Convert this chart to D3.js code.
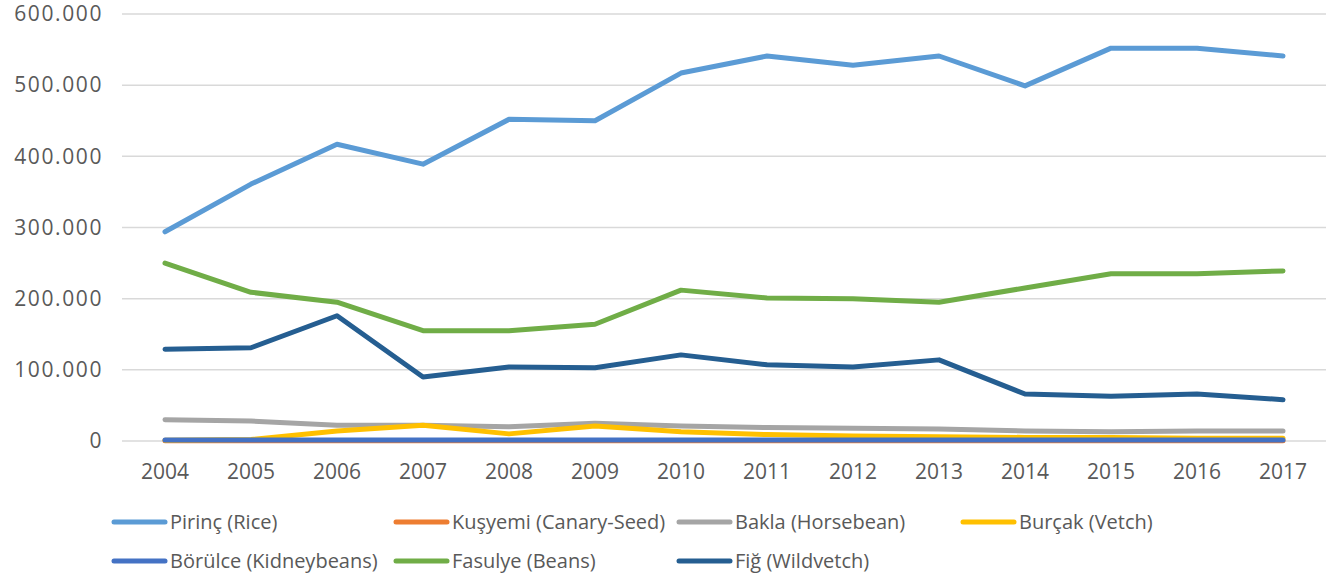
<!DOCTYPE html>
<html>
<head>
<meta charset="utf-8">
<script src="https://cdn.jsdelivr.net/npm/d3@7"></script>
<style>
  body { margin: 0; background: #fff; }
  text { font-family: "Open Sans", "DejaVu Sans", sans-serif; fill: #595959; }
</style>
</head>
<body>
<svg id="chart"></svg>
<script>
// data (tonnes)
var years = ['2004','2005','2006','2007','2008','2009','2010','2011','2012','2013','2014','2015','2016','2017'];
var rice        = [294000, 361000, 417000, 389000, 452000, 450000, 517000, 541000, 528000, 541000, 499000, 552000, 552000, 541000];
var canarySeed  = [200, 200, 200, 200, 200, 200, 200, 200, 200, 200, 200, 200, 200, 200];
var horsebean   = [30000, 28000, 22000, 22000, 20000, 25000, 21000, 19000, 18000, 17000, 14000, 13000, 14000, 14000];
var vetch       = [1000, 2000, 14000, 22000, 10000, 21000, 13000, 9000, 7000, 6000, 5000, 5000, 4000, 4000];
var kidneybeans = [1500, 1500, 1500, 1500, 1500, 1500, 1500, 1500, 1500, 1500, 1500, 1500, 1500, 1500];
var beans       = [250000, 209000, 195000, 155000, 155000, 164000, 212000, 201000, 200000, 195000, 215000, 235000, 235000, 239000];
var wildvetch   = [129000, 131000, 176000, 90000, 104000, 103000, 121000, 107000, 104000, 114000, 66000, 63000, 66000, 58000];
var yTicks = [0, 100000, 200000, 300000, 400000, 500000, 600000];

var series = [
  { name: 'Pirinç (Rice)', values: rice, color: '#5B9BD5' },
  { name: 'Kuşyemi (Canary-Seed)', values: canarySeed, color: '#ED7D31' },
  { name: 'Bakla (Horsebean)', values: horsebean, color: '#A5A5A5' },
  { name: 'Burçak (Vetch)', values: vetch, color: '#FFC000' },
  { name: 'Börülce (Kidneybeans)', values: kidneybeans, color: '#4472C4' },
  { name: 'Fasulye (Beans)', values: beans, color: '#70AD47' },
  { name: 'Fiğ (Wildvetch)', values: wildvetch, color: '#255E91' }
];

var width = 1328, height = 574;
var margin = { top: 14, right: 2, bottom: 133, left: 122 };

var svg = d3.select('#chart')
    .attr('width', width)
    .attr('height', height);

var x = d3.scaleBand()
    .domain(years)
    .range([margin.left, width - margin.right]);

var y = d3.scaleLinear()
    .domain([0, 600000])
    .range([height - margin.bottom, margin.top]);

var locale = d3.formatLocale({ decimal: ',', thousands: '.', grouping: [3], currency: ['', ''] });
var fmt = locale.format(',d');

// gridlines
svg.append('g')
    .selectAll('line')
    .data(yTicks)
    .enter()
    .append('line')
    .attr('x1', margin.left)
    .attr('x2', width - margin.right)
    .attr('y1', function (d) { return y(d); })
    .attr('y2', function (d) { return y(d); })
    .style('stroke', '#d9d9d9')
    .style('stroke-width', 1.5);

// y axis labels
var yAxis = svg.append('g')
    .attr('transform', 'translate(' + (margin.left - 19) + ',0)')
    .call(d3.axisLeft(y).tickValues(yTicks).tickFormat(fmt).tickSize(0).tickPadding(0));
yAxis.select('.domain').remove();
yAxis.selectAll('text')
    .style('font-size', '21px')
    .style('letter-spacing', '1.6px')
    .attr('fill', '#595959');

// x axis labels
var xAxis = svg.append('g')
    .attr('transform', 'translate(0,' + (height - margin.bottom) + ')')
    .call(d3.axisBottom(x).tickSize(0).tickPadding(23));
xAxis.select('.domain').remove();
xAxis.selectAll('text')
    .style('font-size', '21px')
    .attr('fill', '#595959');

// lines
var line = d3.line()
    .x(function (d, i) { return x(years[i]) + x.bandwidth() / 2; })
    .y(function (d) { return y(d); });

svg.append('g')
    .selectAll('path')
    .data(series)
    .enter()
    .append('path')
    .attr('d', function (s) { return line(s.values); })
    .style('fill', 'none')
    .style('stroke', function (s) { return s.color; })
    .style('stroke-width', 5)
    .style('stroke-linejoin', 'round')
    .style('stroke-linecap', 'round');

// legend
var legendPos = [[112, 522], [394, 522], [677, 522], [961, 522], [112, 561], [394, 561], [677, 561]];
var legend = svg.append('g')
    .selectAll('g')
    .data(series)
    .enter()
    .append('g')
    .attr('transform', function (s, i) { return 'translate(' + legendPos[i] + ')'; });

legend.append('line')
    .attr('x1', 2)
    .attr('x2', 53)
    .style('stroke', function (s) { return s.color; })
    .style('stroke-width', 5)
    .style('stroke-linecap', 'round');

legend.append('text')
    .attr('x', 58)
    .attr('dy', '0.35em')
    .style('font-size', '20px')
    .text(function (s) { return s.name; });
</script>
</body>
</html>
